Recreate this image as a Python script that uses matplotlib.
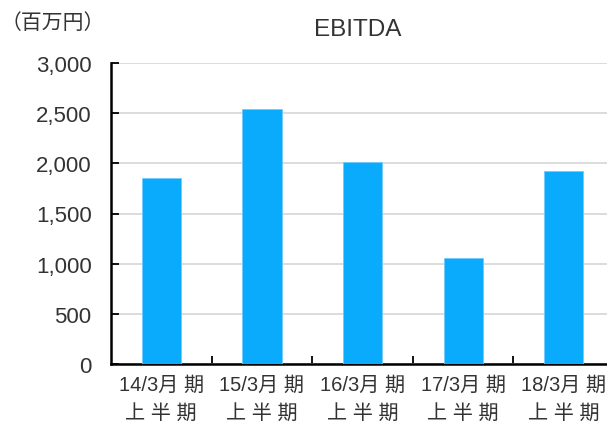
import matplotlib.pyplot as plt
from matplotlib.ticker import FuncFormatter

plt.rcParams['font.family'] = ['Liberation Sans', 'Noto Sans CJK JP', 'DejaVu Sans']

categories = ['14/3月 期\n上 半 期', '15/3月 期\n上 半 期', '16/3月 期\n上 半 期',
              '17/3月 期\n上 半 期', '18/3月 期\n上 半 期']
ebitda = [1857, 2545, 2009, 1060, 1927]
yticks = [0, 500, 1000, 1500, 2000, 2500, 3000]

fig = plt.figure(figsize=(6.07, 4.27), dpi=100)
ax = fig.add_axes([111 / 607, 1 - 365 / 427, 1 - 111 / 607, (365 - 64) / 427])

x = list(range(len(categories)))
ax.bar(x, ebitda, width=0.39, color='#0AAAFC', edgecolor='#6FCBFD', linewidth=0.6, zorder=3)

ax.set_ylim(0, 3000)
ax.set_xlim(-0.5, 4.43)
ax.set_yticks(yticks)
ax.yaxis.set_major_formatter(FuncFormatter(lambda v, p: f'{int(v):,}'))
ax.grid(axis='y', color='#D9D9D9', linewidth=1.3, zorder=0)

# category labels centred, ticks on the boundaries
ax.set_xticks([i + 0.5 for i in x[:-1]])
ax.set_xticklabels([])
ax.set_xticks(x, minor=True)
ax.set_xticklabels(categories, minor=True, fontsize=14.5, color='#333333', linespacing=1.6)
ax.tick_params(axis='x', which='minor', length=0, pad=8)
ax.tick_params(axis='x', which='major', direction='in', length=6, width=1.3)
ax.tick_params(axis='y', direction='in', length=6, width=1.3, labelsize=16, labelcolor='#333333', pad=14)

for s in ['top', 'right']:
    ax.spines[s].set_visible(False)
for s in ['left', 'bottom']:
    ax.spines[s].set_linewidth(1.8)
    ax.spines[s].set_color('black')

fig.text(358 / 607, 1 - 30 / 427, 'EBITDA', ha='center', va='center', fontsize=17.5, color='#333333')
fig.text(1 / 607, 1 - 23 / 427, '（百万円）', ha='left', va='center', fontsize=15, color='#333333')

fig.savefig('out.png', dpi=100)
